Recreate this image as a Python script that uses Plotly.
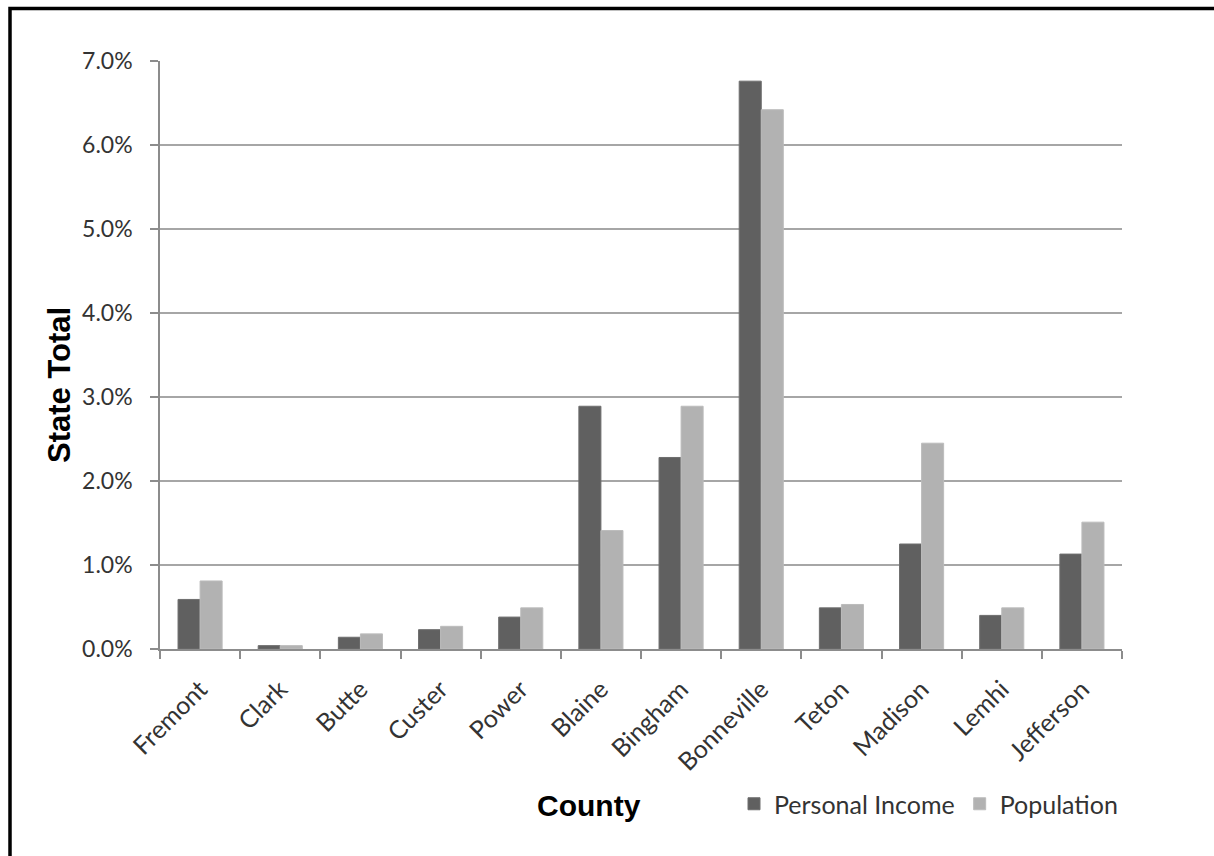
import plotly.graph_objects as go

counties = ["Fremont", "Clark", "Butte", "Custer", "Power", "Blaine", "Bingham",
            "Bonneville", "Teton", "Madison", "Lemhi", "Jefferson"]
personal_income = [0.59, 0.04, 0.14, 0.23, 0.38, 2.89, 2.28, 6.76, 0.49, 1.25, 0.40, 1.13]
population = [0.81, 0.04, 0.18, 0.27, 0.49, 1.41, 2.89, 6.42, 0.53, 2.45, 0.49, 1.51]
y_ticks = [0, 1, 2, 3, 4, 5, 6, 7]
y_tick_labels = ["0.0%", "1.0%", "2.0%", "3.0%", "4.0%", "5.0%", "6.0%", "7.0%"]

W, H = 1214, 856
L, R, T, B = 160, 1122, 61, 649

def px(x):
    return (x - L) / (R - L)

def py(y):
    return (B - y) / (B - T)

TXT = "#333333"
FONT = "Lato"

fig = go.Figure()
fig.add_trace(go.Bar(x=counties, y=personal_income, name="Personal Income",
                     marker=dict(color="#606060", line=dict(color="#6e6e6e", width=1))))
fig.add_trace(go.Bar(x=counties, y=population, name="Population",
                     marker=dict(color="#b2b2b2", line=dict(color="#bcbcbc", width=1))))

fig.update_layout(
    width=W, height=H,
    margin=dict(l=L, r=W - R, t=T, b=H - B, autoexpand=False),
    paper_bgcolor="white", plot_bgcolor="white",
    barmode="group", bargap=0.45, bargroupgap=0,
    font=dict(family=FONT, size=25, color=TXT),
    showlegend=True,
    legend=dict(orientation="h", x=px(734), xanchor="left", y=py(804), yanchor="middle",
                font=dict(family=FONT, size=25, color=TXT), itemwidth=30,
                bgcolor="rgba(0,0,0,0)", traceorder="normal"),
)

fig.update_xaxes(
    type="category", tickangle=-45, tickson="boundaries",
    ticks="outside", ticklen=8, tickcolor="#8c8c8c", tickwidth=1.5,
    showline=True, linecolor="#8c8c8c", linewidth=1.5,
    showgrid=False, tickfont=dict(family=FONT, size=25, color=TXT),
    ticklabelstandoff=14,
)
fig.update_yaxes(
    range=[0, 7], tickvals=y_ticks, ticktext=y_tick_labels,
    ticks="outside", ticklen=8, tickcolor="#8c8c8c", tickwidth=1.5,
    showline=True, linecolor="#8c8c8c", linewidth=1.5,
    showgrid=True, gridcolor="#a6a6a6", gridwidth=1.5,
    zeroline=False, tickfont=dict(family=FONT, size=23, color=TXT),
    ticklabelstandoff=13,
)

fig.add_annotation(text="<b>State Total</b>", xref="paper", yref="paper",
                   x=px(60), y=py(385), xanchor="center", yanchor="middle",
                   textangle=-90, showarrow=False,
                   font=dict(family="Liberation Sans", size=31, color="black"))
fig.add_annotation(text="<b>County</b>", xref="paper", yref="paper",
                   x=px(589), y=py(805), xanchor="center", yanchor="middle",
                   showarrow=False,
                   font=dict(family="Liberation Sans", size=30, color="black"))

fig.add_shape(type="rect", xref="paper", yref="paper",
              x0=px(10), x1=px(1230), y0=py(872), y1=py(8.5),
              line=dict(color="black", width=3.5), fillcolor="rgba(0,0,0,0)", layer="above")

fig.write_html("out.html")
